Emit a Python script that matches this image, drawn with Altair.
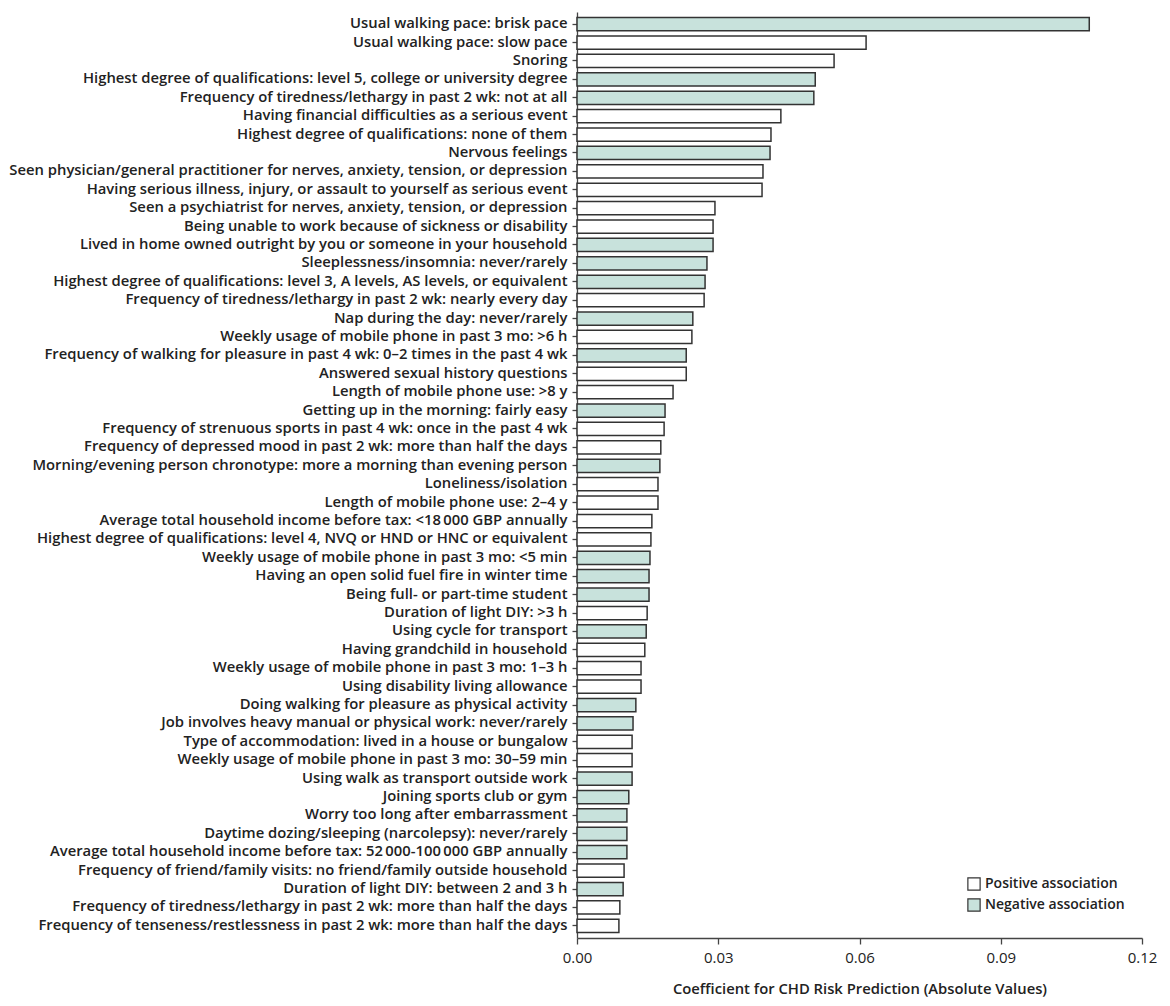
import altair as alt
import pandas as pd

labels = [
    "Usual walking pace: brisk pace",
    "Usual walking pace: slow pace",
    "Snoring",
    "Highest degree of qualifications: level 5, college or university degree",
    "Frequency of tiredness/lethargy in past 2 wk: not at all",
    "Having financial difficulties as a serious event",
    "Highest degree of qualifications: none of them",
    "Nervous feelings",
    "Seen physician/general practitioner for nerves, anxiety, tension, or depression",
    "Having serious illness, injury, or assault to yourself as serious event",
    "Seen a psychiatrist for nerves, anxiety, tension, or depression",
    "Being unable to work because of sickness or disability",
    "Lived in home owned outright by you or someone in your household",
    "Sleeplessness/insomnia: never/rarely",
    "Highest degree of qualifications: level 3, A levels, AS levels, or equivalent",
    "Frequency of tiredness/lethargy in past 2 wk: nearly every day",
    "Nap during the day: never/rarely",
    "Weekly usage of mobile phone in past 3 mo: >6 h",
    "Frequency of walking for pleasure in past 4 wk: 0\u20132 times in the past 4 wk",
    "Answered sexual history questions",
    "Length of mobile phone use: >8 y",
    "Getting up in the morning: fairly easy",
    "Frequency of strenuous sports in past 4 wk: once in the past 4 wk",
    "Frequency of depressed mood in past 2 wk: more than half the days",
    "Morning/evening person chronotype: more a morning than evening person",
    "Loneliness/isolation",
    "Length of mobile phone use: 2\u20134 y",
    "Average total household income before tax: <18\u2009000 GBP annually",
    "Highest degree of qualifications: level 4, NVQ or HND or HNC or equivalent",
    "Weekly usage of mobile phone in past 3 mo: <5 min",
    "Having an open solid fuel fire in winter time",
    "Being full- or part-time student",
    "Duration of light DIY: >3 h",
    "Using cycle for transport",
    "Having grandchild in household",
    "Weekly usage of mobile phone in past 3 mo: 1\u20133 h",
    "Using disability living allowance",
    "Doing walking for pleasure as physical activity",
    "Job involves heavy manual or physical work: never/rarely",
    "Type of accommodation: lived in a house or bungalow",
    "Weekly usage of mobile phone in past 3 mo: 30\u201359 min",
    "Using walk as transport outside work",
    "Joining sports club or gym",
    "Worry too long after embarrassment",
    "Daytime dozing/sleeping (narcolepsy): never/rarely",
    "Average total household income before tax: 52\u2009000-100\u2009000 GBP annually",
    "Frequency of friend/family visits: no friend/family outside household",
    "Duration of light DIY: between 2 and 3 h",
    "Frequency of tiredness/lethargy in past 2 wk: more than half the days",
    "Frequency of tenseness/restlessness in past 2 wk: more than half the days",
]

values = [
    0.1088, 0.0614, 0.0546, 0.0506, 0.0503, 0.0433, 0.0412, 0.0410, 0.0395, 0.0393,
    0.0293, 0.0289, 0.0289, 0.0276, 0.0272, 0.0270, 0.0246, 0.0244, 0.0232, 0.0232,
    0.0204, 0.0187, 0.0185, 0.0178, 0.0176, 0.0172, 0.0172, 0.0159, 0.0157, 0.0155,
    0.0153, 0.0153, 0.0149, 0.0147, 0.0144, 0.0136, 0.0136, 0.0125, 0.0119, 0.0117,
    0.0117, 0.0117, 0.0110, 0.0106, 0.0106, 0.0106, 0.0100, 0.0098, 0.0091, 0.0089,
]

signs = list("NPPNNPPNPPPPNNNPNPNPPNPPNPPPPNNNPNPPPNNPPNNNNNPNPP")
sign_names = {"P": "Positive association", "N": "Negative association"}
association = [sign_names[s] for s in signs]

df = pd.DataFrame({"label": labels, "value": values, "association": association})

FONT = "Open Sans"

chart = alt.Chart(df).mark_bar(
    stroke="#333333", strokeWidth=1.5
).encode(
    x=alt.X(
        "value:Q",
        scale=alt.Scale(domain=[0, 0.12], nice=False),
        axis=alt.Axis(
            values=[0, 0.03, 0.06, 0.09, 0.12], format=".2f", grid=False,
            title="Coefficient for CHD Risk Prediction (Absolute Values)",
            titlePadding=16, labelPadding=6, tickSize=6, labelFlush=False,
            labelFontSize=15, labelFontWeight=400, titleFontSize=14.8,
        ),
    ),
    y=alt.Y(
        "label:N", sort=labels,
        scale=alt.Scale(paddingInner=0.28, paddingOuter=0.3),
        axis=alt.Axis(title=None, tickSize=5, labelPadding=5, labelLimit=600,
                      labelFontSize=14.8),
    ),
    fill=alt.Fill(
        "association:N",
        scale=alt.Scale(
            domain=["Positive association", "Negative association"],
            range=["#ffffff", "#c8e2dc"],
        ),
        legend=alt.Legend(
            title=None, orient="none", legendX=390, legendY=865,
            symbolType="square", symbolSize=150, symbolStrokeColor="#333333",
            symbolStrokeWidth=1.2, labelFontSize=14, labelFont=FONT,
            labelFontWeight=600, rowPadding=3, labelColor="#222222",
        ),
    ),
).properties(
    width=565, height=926,
    autosize=alt.AutoSizeParams(type="none"),
    padding={"left": 577, "top": 12, "right": 28, "bottom": 68},
).configure_view(
    stroke=None
).configure_axis(
    labelFont=FONT, titleFont=FONT,
    labelFontWeight=600, titleFontWeight=600, labelColor="#222222",
    titleColor="#222222", domainColor="#444444", tickColor="#444444",
    domainWidth=1.3, tickWidth=1.3,
)

chart.save("out.html", embed_options={"renderer": "svg", "actions": False})
